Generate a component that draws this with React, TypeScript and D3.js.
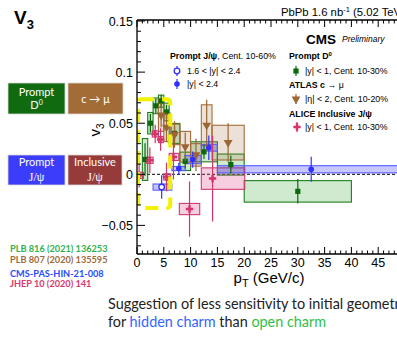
import * as d3 from 'd3';

interface Meas {
    pt: number;
    lo: number;
    hi: number;
    v3: number;
    stat: number;
    syst: number;
}

// CMS prompt D0, |y| < 1, 10-30%
const promptD0: Meas[] = [
    { pt: 1.5, lo: 1, hi: 2, v3: 0.0145, stat: 0.016, syst: 0.0205 },
    { pt: 2.5, lo: 2, hi: 3, v3: 0.05, stat: 0.009, syst: 0.0105 },
    { pt: 3.5, lo: 3, hi: 4, v3: 0.067, stat: 0.007, syst: 0.0077 },
    { pt: 4.5, lo: 4, hi: 5, v3: 0.0715, stat: 0.006, syst: 0.006 },
    { pt: 5.5, lo: 5, hi: 6, v3: 0.061, stat: 0.007, syst: 0.0087 },
    { pt: 7, lo: 6, hi: 8, v3: 0.04, stat: 0.006, syst: 0.0098 },
    { pt: 9, lo: 8, hi: 10, v3: 0.0127, stat: 0.007, syst: 0.009 },
    { pt: 12.5, lo: 10, hi: 15, v3: 0.022, stat: 0.007, syst: 0.0098 },
    { pt: 17.5, lo: 15, hi: 20, v3: 0.0095, stat: 0.009, syst: 0.0103 },
    { pt: 30, lo: 20, hi: 40, v3: -0.0167, stat: 0.012, syst: 0.0105 },
];

// ATLAS c -> mu, |eta| < 2, 10-20%
const atlasCMu: Meas[] = [
    { pt: 4.5, lo: 4, hi: 5, v3: 0.058, stat: 0.012, syst: 0.016 },
    { pt: 5.5, lo: 5, hi: 6.2, v3: 0.046, stat: 0.014, syst: 0.014 },
    { pt: 7, lo: 6.4, hi: 8, v3: 0.039, stat: 0.013, syst: 0.01 },
    { pt: 9, lo: 8, hi: 10, v3: 0.027, stat: 0.014, syst: 0.015 },
    { pt: 11, lo: 10, hi: 12, v3: 0.019, stat: 0.016, syst: 0.011 },
    { pt: 13, lo: 12, hi: 14, v3: 0.048, stat: 0.025, syst: 0.02 },
    { pt: 17, lo: 14, hi: 20, v3: 0.031, stat: 0.019, syst: 0.017 },
];

// ALICE inclusive J/psi, |y| < 1, 10-30%
const aliceJpsi: Meas[] = [
    { pt: 0.4, lo: 0, hi: 1.2, v3: -0.001, stat: 0.012, syst: 0.003 },
    { pt: 2.4, lo: 1.8, hi: 3, v3: 0.0137, stat: 0.0125, syst: 0.003 },
    { pt: 3.4, lo: 2.85, hi: 4, v3: 0.0395, stat: 0.009, syst: 0.003 },
    { pt: 4.4, lo: 4, hi: 4.9, v3: 0.034, stat: 0.011, syst: 0.003 },
    { pt: 5.5, lo: 5, hi: 6.3, v3: -0.0026, stat: 0.014, syst: 0.003 },
    { pt: 6.8, lo: 6, hi: 7.8, v3: 0.017, stat: 0.022, syst: 0.0035 },
    { pt: 9.8, lo: 7.9, hi: 11.7, v3: -0.034, stat: 0.027, syst: 0.0055 },
    { pt: 14.1, lo: 12, hi: 20.1, v3: -0.0042, stat: 0.042, syst: 0.0105 },
];

// CMS prompt J/psi, 10-60%
const jpsiMid: Meas[] = [
    { pt: 7.8, lo: 6.5, hi: 9, v3: 0.0056, stat: 0.0057, syst: 0.002 },
    { pt: 10.4, lo: 9, hi: 12, v3: 0.0144, stat: 0.008, syst: 0.004 },
    { pt: 13.4, lo: 12, hi: 15, v3: 0.026, stat: 0.012, syst: 0.0033 },
    { pt: 32.5, lo: 15, hi: 50, v3: 0.0049, stat: 0.0123, syst: 0.0035 },
];
const jpsiFwd: Meas[] = [{ pt: 4.6, lo: 3, hi: 6.5, v3: -0.0125, stat: 0.0115, syst: 0.003 }];

const xTickLabels = [0, 5, 10, 15, 20, 25, 30, 35, 40, 45];
const yTickLabels = [-0.05, 0, 0.05, 0.1, 0.15];
// highlighted low-pT region (pT, v3)
const highlight = { ptLo: 0.2, ptHi: 6.2, v3Lo: -0.033, v3Hi: 0.0735 };

const references = [
    { text: 'PLB 816 (2021) 136253', color: '#2eb24f' },
    { text: 'PLB 807 (2020) 135595', color: '#9e6b3b' },
    { text: 'CMS-PAS-HIN-21-008', color: '#2a4cff' },
    { text: 'JHEP 10 (2020) 141', color: '#d93a6e' },
];

type MarkerKind = 'square' | 'tri' | 'cross' | 'dot' | 'ring';

const GREEN = '#0b6a0b';
const BROWN = '#9c6634';
const PINK = '#d6336b';
const BLUE = '#2f2fff';

const series: { data: Meas[]; color: string; fill: string; stroke: string; marker: MarkerKind }[] = [
    { data: promptD0, color: GREEN, fill: 'rgba(40,160,40,0.22)', stroke: '#1d7d1d', marker: 'square' },
    { data: atlasCMu, color: BROWN, fill: 'rgba(170,120,70,0.22)', stroke: '#a36c3a', marker: 'tri' },
    { data: aliceJpsi, color: PINK, fill: 'rgba(225,80,140,0.28)', stroke: '#cc3a70', marker: 'cross' },
    { data: jpsiMid, color: BLUE, fill: 'rgba(70,70,255,0.3)', stroke: '#5a5aff', marker: 'dot' },
    { data: jpsiFwd, color: BLUE, fill: 'rgba(70,70,255,0.3)', stroke: '#5a5aff', marker: 'ring' },
];

const PLOT_FONT = '"Liberation Sans", Arial, sans-serif';
const SLIDE_FONT = 'Lato, "Open Sans", sans-serif';

function Marker({ kind, cx, cy, color }: { kind: MarkerKind; cx: number; cy: number; color: string }) {
    if (kind === 'square') return <rect x={cx - 2.6} y={cy - 2.6} width={5.2} height={5.2} fill={color} />;
    if (kind === 'dot') return <circle cx={cx} cy={cy} r={2.8} fill={color} />;
    if (kind === 'ring') return <circle cx={cx} cy={cy} r={2.8} fill="#fff" stroke={color} strokeWidth={1.3} />;
    const type = kind === 'tri' ? d3.symbolTriangle : d3.symbolCross;
    const size = kind === 'tri' ? 34 : 30;
    const rot = kind === 'tri' ? 180 : 0;
    return (
        <path
            d={d3.symbol().type(type).size(size)()!}
            transform={`translate(${cx},${cy}) rotate(${rot})`}
            fill={color}
        />
    );
}

export default function App() {
    const x = d3.scaleLinear().domain([0, 50]).range([137, 405]);
    const y = d3.scaleLinear().domain([-0.078, 0.151]).range([254, 20]);
    const [x0, x1] = x.range();
    const [yb, yt] = y.range();

    const xMinor = d3.range(0, 51, 1);
    const yMinor = d3.range(-0.07, 0.151, 0.01);

    return (
        <div style={{ position: 'absolute', left: 0, top: 0 }}>
            <svg width={397} height={338} viewBox="0 0 397 338" style={{ display: 'block', background: '#fff' }}>
                <defs>
                    <clipPath id="plot">
                        <rect x={x0} y={yt} width={x1 - x0} height={yb - yt} />
                    </clipPath>
                </defs>

                {/* slide title */}
                <text x={14} y={24} fontFamily={PLOT_FONT} fontWeight="bold" fontSize={19}>
                    V<tspan fontSize={13} dy={5}>3</tspan>
                </text>

                {/* category boxes */}
                <g fontFamily={SLIDE_FONT} fill="#fff" textAnchor="middle">
                    <rect x={8} y={83} width={57} height={31} fill="#106b10" stroke="#d8d8d8" strokeWidth={0.8} />
                    <text x={36.5} y={96} fontSize={11}>Prompt</text>
                    <text x={36.5} y={109} fontSize={11}>
                        D<tspan fontSize={7} dy={-4}>0</tspan>
                    </text>
                    <rect x={68} y={83} width={55} height={31} fill="#a36b36" stroke="#d8d8d8" strokeWidth={0.8} />
                    <text x={95.5} y={103} fontSize={11}>c → μ</text>
                    <rect x={8} y={155} width={57} height={30} fill="#3c3cfb" stroke="#d8d8d8" strokeWidth={0.8} />
                    <text x={36.5} y={166} fontSize={11}>Prompt</text>
                    <text x={36.5} y={181} fontSize={12} fontFamily='"Liberation Serif", serif'>J/ψ</text>
                    <rect x={68} y={155} width={54} height={30} fill="#973a3a" stroke="#d8d8d8" strokeWidth={0.8} />
                    <text x={95} y={166} fontSize={11}>Inclusive</text>
                    <text x={95} y={181} fontSize={12} fontFamily='"Liberation Serif", serif'>J/ψ</text>
                </g>

                {/* references */}
                <g fontFamily={SLIDE_FONT} fontWeight="bold" fontSize={9.2}>
                    {references.map((r, i) => (
                        <text key={r.text} x={10} y={252 + i * 10.5 + (i >= 2 ? 3.5 : 0)} fill={r.color}>
                            {r.text}
                        </text>
                    ))}
                </g>

                {/* bottom remark */}
                <g fontFamily={SLIDE_FONT} fontSize={14.4} fill="#222">
                    <text x={108} y={309}>Suggestion of less sensitivity to initial geometry</text>
                    <text x={108} y={326.5}>
                        for <tspan fill="#3366ff">hidden charm</tspan> than <tspan fill="#2ec24a">open charm</tspan>
                    </text>
                </g>

                {/* data */}
                <g clipPath="url(#plot)">
                    <line x1={x0} x2={x1} y1={y(0)} y2={y(0)} stroke="#000" strokeDasharray="3,2" strokeWidth={1} />
                    {series.map((s, si) =>
                        s.data.map((d, i) => (
                            <rect
                                key={`b${si}-${i}`}
                                x={x(d.lo)}
                                y={y(d.v3 + d.syst)}
                                width={x(d.hi) - x(d.lo)}
                                height={y(d.v3 - d.syst) - y(d.v3 + d.syst)}
                                fill={s.fill}
                                stroke={s.stroke}
                                strokeWidth={1.1}
                            />
                        ))
                    )}
                    {series.map((s, si) =>
                        s.data.map((d, i) => (
                            <g key={`p${si}-${i}`}>
                                <line
                                    x1={x(d.pt)}
                                    x2={x(d.pt)}
                                    y1={y(d.v3 + d.stat)}
                                    y2={y(d.v3 - d.stat)}
                                    stroke={s.color}
                                    strokeWidth={1.2}
                                />
                                <Marker kind={s.marker} cx={x(d.pt)} cy={y(d.v3)} color={s.color} />
                            </g>
                        ))
                    )}
                    <rect
                        x={x(highlight.ptLo)}
                        y={y(highlight.v3Hi)}
                        width={x(highlight.ptHi) - x(highlight.ptLo)}
                        height={y(highlight.v3Lo) - y(highlight.v3Hi)}
                        rx={3}
                        fill="none"
                        stroke="#f2f200"
                        strokeWidth={4}
                        strokeDasharray="13,8"
                    />
                </g>

                {/* frame and axes */}
                <g stroke="#000" fill="none">
                    <line x1={x0} x2={x0} y1={yt} y2={yb} strokeWidth={1.3} />
                    <line x1={x0} x2={x1} y1={yb} y2={yb} strokeWidth={1.3} />
                    <line x1={x0} x2={x1} y1={yt} y2={yt} strokeWidth={1.3} />
                    {xMinor.map((t) => {
                        const len = t % 5 === 0 ? 7 : 3.5;
                        return (
                            <g key={`xt${t}`}>
                                <line x1={x(t)} x2={x(t)} y1={yb} y2={yb - len} strokeWidth={1} />
                                <line x1={x(t)} x2={x(t)} y1={yt} y2={yt + len} strokeWidth={1} />
                            </g>
                        );
                    })}
                    {yMinor.map((t, i) => {
                        const major = Math.abs(Math.round(t * 100) % 5) === 0;
                        return (
                            <line key={`yt${i}`} x1={x0} x2={x0 + (major ? 8 : 4)} y1={y(t)} y2={y(t)} strokeWidth={1} />
                        );
                    })}
                </g>
                <g fontFamily={PLOT_FONT} fontSize={12.5} fill="#000">
                    {xTickLabels.map((t) => (
                        <text key={`xl${t}`} x={x(t)} y={267} textAnchor="middle">
                            {t}
                        </text>
                    ))}
                    {yTickLabels.map((t) => (
                        <text key={`yl${t}`} x={133} y={y(t) + 4.5} textAnchor="end">
                            {t < 0 ? `−${Math.abs(t)}` : `${t}`}
                        </text>
                    ))}
                    <text x={269} y={283} textAnchor="middle" fontSize={15}>
                        p<tspan fontSize={11} dy={4}>T</tspan>
                        <tspan dy={-4}> (GeV/c)</tspan>
                    </text>
                    <text transform="translate(100,130) rotate(-90)" textAnchor="middle" fontSize={15}>
                        v<tspan fontSize={10} dy={4}>3</tspan>
                    </text>
                    <text x={281} y={16} fontSize={11.3}>
                        PbPb 1.6 nb<tspan fontSize={7.5} dy={-4.5}>-1</tspan>
                        <tspan dy={4.5}> (5.02 TeV)</tspan>
                    </text>
                </g>

                {/* legend */}
                <g fontFamily={PLOT_FONT} fill="#000">
                    <text x={306} y={44} fontSize={13.5} fontWeight="bold">CMS</text>
                    <text x={342} y={42} fontSize={8.5} fontStyle="italic">Preliminary</text>
                    <g fontSize={8.8}>
                        <text x={170} y={59}>
                            <tspan fontWeight="bold">Prompt J/ψ</tspan>, Cent. 10-60%
                        </text>
                        <text x={187} y={74}>1.6 &lt; |y| &lt; 2.4</text>
                        <text x={187} y={87}>|y| &lt; 2.4</text>
                        <text x={289} y={59} fontWeight="bold">
                            Prompt D<tspan fontSize={6} dy={-3.5}>0</tspan>
                        </text>
                        <text x={305} y={74}>|y| &lt; 1, Cent. 10-30%</text>
                        <text x={289} y={88}>
                            <tspan fontWeight="bold">ATLAS c</tspan> → μ
                        </text>
                        <text x={305} y={102}>|η| &lt; 2, Cent. 10-20%</text>
                        <text x={289} y={117} fontWeight="bold">ALICE Inclusive J/ψ</text>
                        <text x={305} y={130}>|y| &lt; 1, Cent. 10-30%</text>
                    </g>
                    {[
                        { kind: 'ring' as MarkerKind, cx: 177, cy: 71, color: BLUE },
                        { kind: 'dot' as MarkerKind, cx: 177, cy: 84, color: BLUE },
                        { kind: 'square' as MarkerKind, cx: 296, cy: 71, color: GREEN },
                        { kind: 'tri' as MarkerKind, cx: 296, cy: 99, color: BROWN },
                        { kind: 'cross' as MarkerKind, cx: 297, cy: 127, color: PINK },
                    ].map((m, i) => (
                        <g key={`lm${i}`}>
                            <line x1={m.cx} x2={m.cx} y1={m.cy - 5} y2={m.cy + 5} stroke={m.color} strokeWidth={1.2} />
                            <Marker kind={m.kind} cx={m.cx} cy={m.cy} color={m.color} />
                        </g>
                    ))}
                </g>
            </svg>
        </div>
    );
}
